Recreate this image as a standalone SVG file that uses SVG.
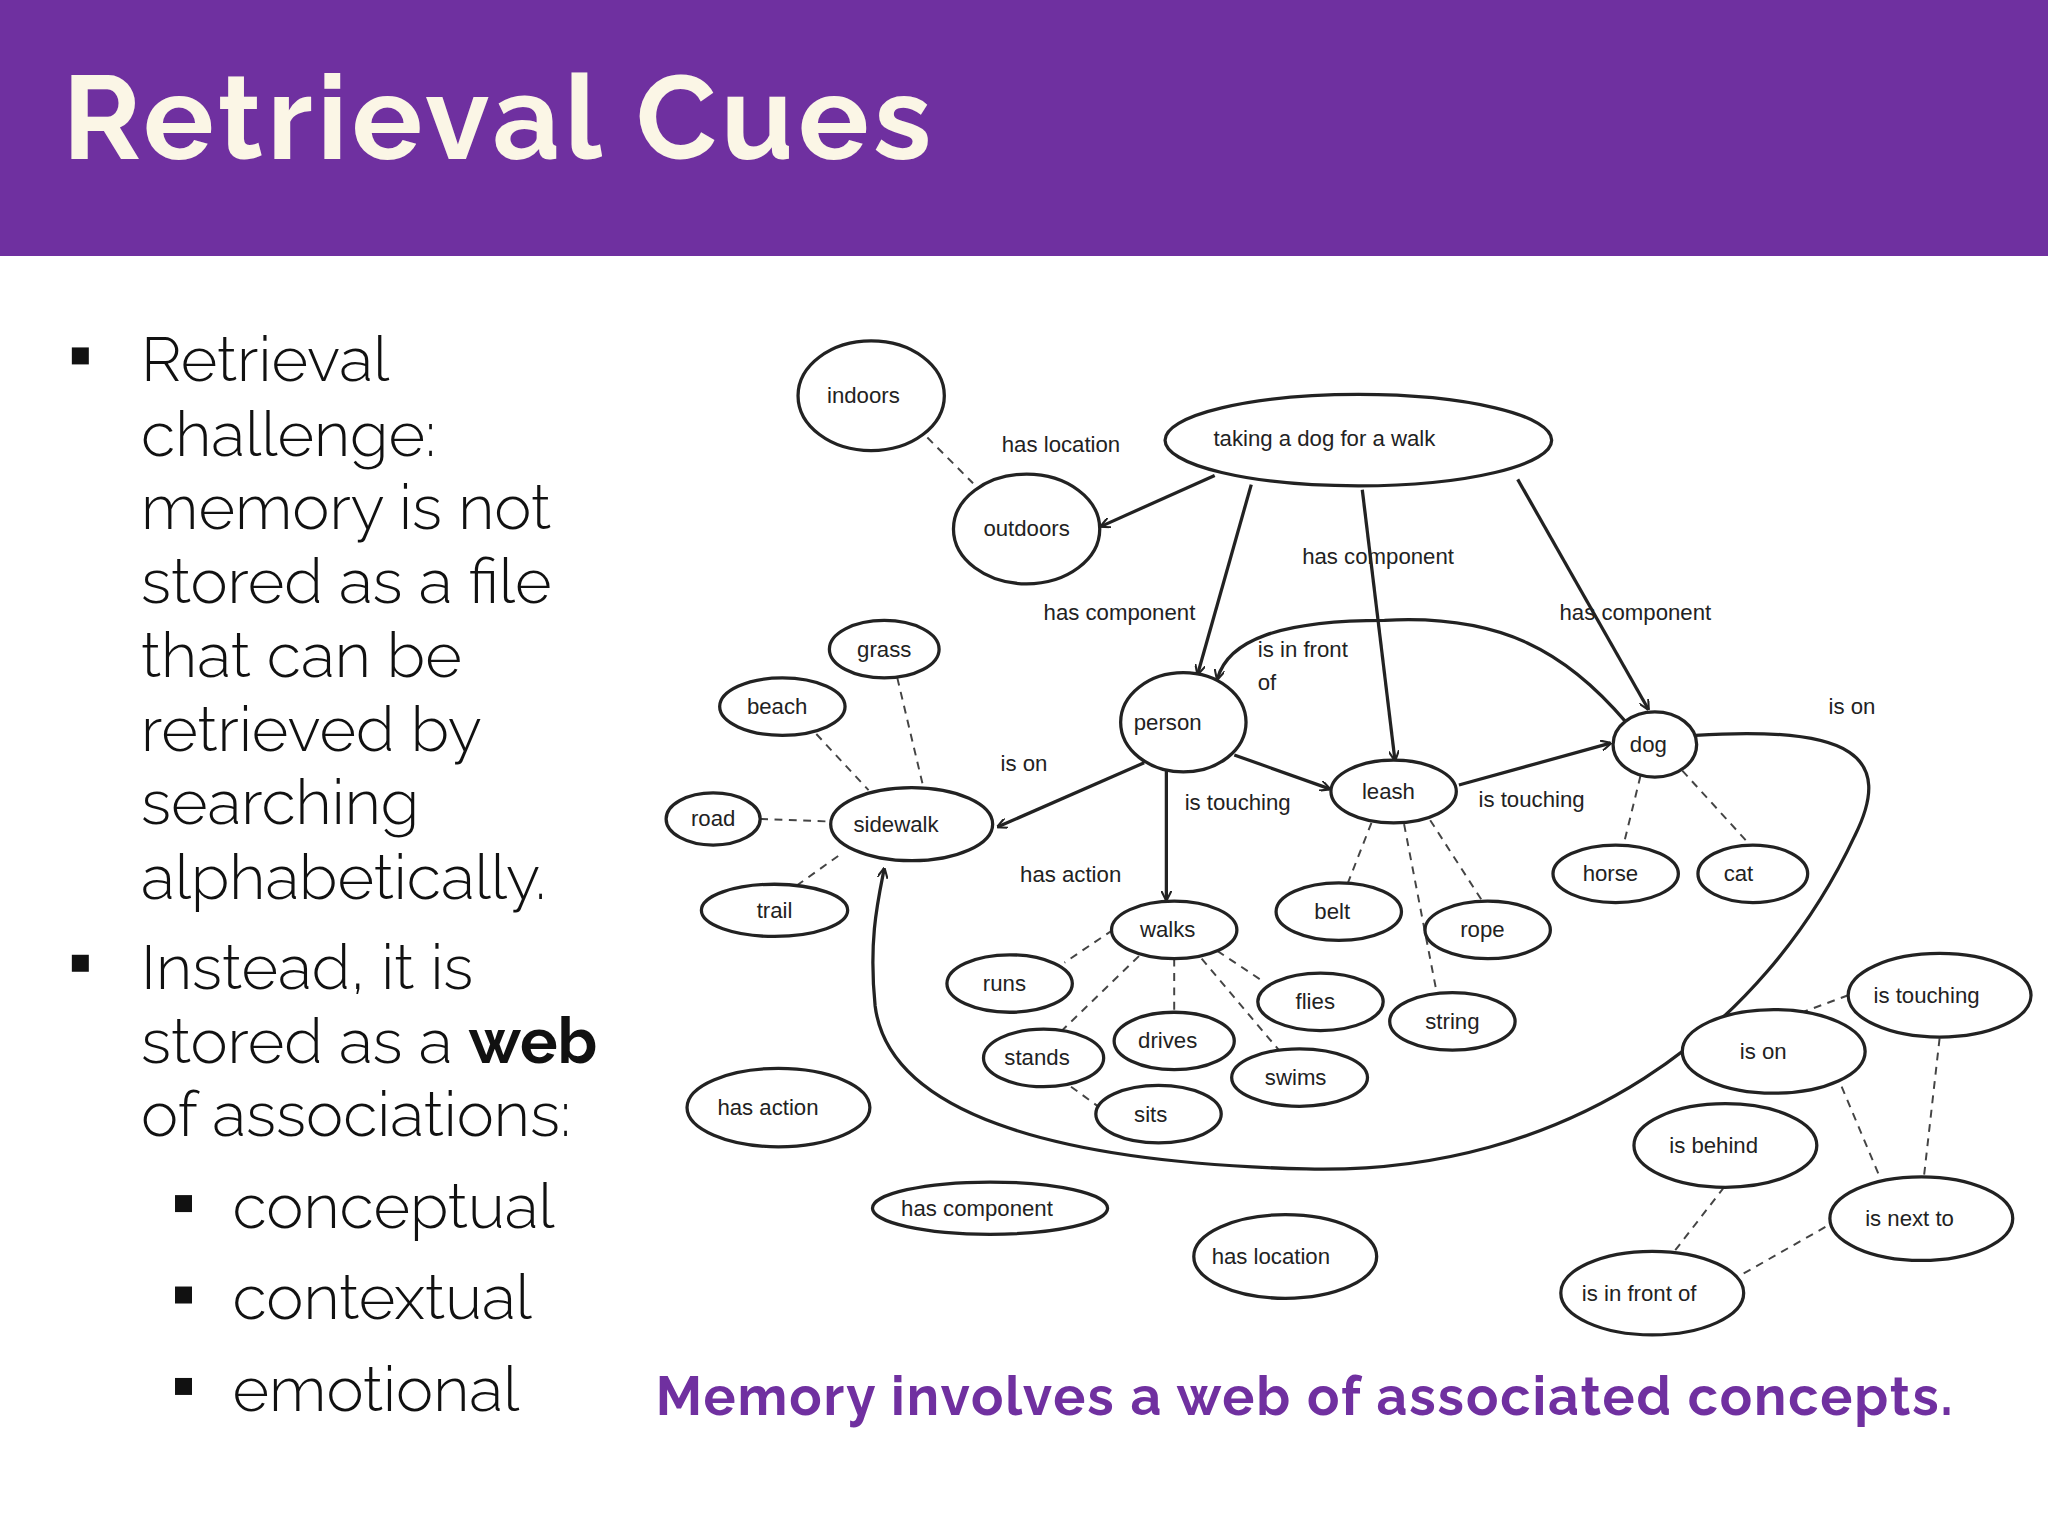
<svg xmlns="http://www.w3.org/2000/svg" width="2048" height="1536" viewBox="0 0 2048 1536">
<defs>
<style>
.n{fill:#fff;stroke:#222;stroke-width:2.5}
.t{font-family:"Liberation Sans",Arial,sans-serif;font-size:17px;fill:#222;text-anchor:middle;dominant-baseline:central}
.l{font-family:"Liberation Sans",Arial,sans-serif;font-size:17px;fill:#222}
.s{fill:none;stroke:#222;stroke-width:2.5}
.d{fill:none;stroke:#444;stroke-width:1.5;stroke-dasharray:6 5}
.b{font-family:Raleway,"Open Sans",sans-serif;font-weight:300;font-size:48px;fill:#111}
</style>
<marker id="a" viewBox="0 0 10 10" refX="9" refY="5" markerWidth="8" markerHeight="8" orient="auto-start-reverse" markerUnits="userSpaceOnUse"><path d="M0,0 L10,5 L0,10" fill="none" stroke="#222" stroke-width="2"/></marker>
</defs>
<rect width="2048" height="1536" fill="#fff"/>
<g transform="scale(1.30612)">
<rect x="0" y="0" width="1568" height="196" fill="#6f30a0"/>
<text x="48" y="122" font-family="Raleway,'Open Sans',sans-serif" font-weight="700" font-size="90" fill="#fbf6e6" textLength="665">Retrieval Cues</text>
<g id="bullets">
<rect x="55" y="266" width="13" height="13" fill="#111"/>
<text class="b" x="108"><tspan x="108" y="292">Retrieval</tspan><tspan x="108" y="349">challenge:</tspan><tspan x="108" y="405">memory is not</tspan><tspan x="108" y="462">stored as a file</tspan><tspan x="108" y="518">that can be</tspan><tspan x="108" y="575">retrieved by</tspan><tspan x="108" y="631">searching</tspan><tspan x="108" y="688">alphabetically.</tspan></text>
<rect x="55" y="731" width="13" height="13" fill="#111"/>
<text class="b"><tspan x="108" y="757">Instead, it is</tspan><tspan x="108" y="814">stored as a <tspan font-weight="700">web</tspan></tspan><tspan x="108" y="870">of associations:</tspan></text>
<rect x="134" y="915" width="13" height="13" fill="#111"/><text class="b" x="178" y="940">conceptual</text>
<rect x="134" y="985" width="13" height="13" fill="#111"/><text class="b" x="178" y="1010">contextual</text>
<rect x="134" y="1055" width="13" height="13" fill="#111"/><text class="b" x="178" y="1080">emotional</text>
</g>
<text x="502" y="1083" font-family="Raleway,'Open Sans',sans-serif" font-weight="700" font-size="41" fill="#7030a0" textLength="993">Memory involves a web of associated concepts.</text>
<g id="connectors">
<path class="s" marker-end="url(#a)" d="M930,364 L843,403"/>
<path class="s" marker-end="url(#a)" d="M958,371 L917,516"/>
<path class="s" marker-end="url(#a)" d="M1043,375 L1068,582"/>
<path class="s" marker-end="url(#a)" d="M1162,367 L1262,543"/>
<path class="s" marker-end="url(#a)" d="M876,584 L764,633"/>
<path class="s" marker-end="url(#a)" d="M893,590 L893,689"/>
<path class="s" marker-end="url(#a)" d="M945,578 L1018,604"/>
<path class="s" marker-end="url(#a)" d="M1117,601 L1233,569"/>
<path class="s" marker-end="url(#a)" d="M1245,553 C1200,500 1150,470 1060,475 C980,475 940,490 932,520"/>
<path class="s" marker-end="url(#a)" d="M1298,563 C1420,555 1450,580 1420,640 C1350,790 1200,900 1000,895 C800,890 680,850 670,770 C665,720 672,690 677,665"/>
<path class="d" d="M710,335 L745,370"/>
<path class="d" d="M687,519 L707,603"/>
<path class="d" d="M625,562 L665,605"/>
<path class="d" d="M582,627 L636,629"/>
<path class="d" d="M610,678 L645,653"/>
<path class="d" d="M852,712 L815,737"/>
<path class="d" d="M872,732 L812,790"/>
<path class="d" d="M899,734 L899,775"/>
<path class="d" d="M820,832 L842,848"/>
<path class="d" d="M932,728 L968,752"/>
<path class="d" d="M920,734 L980,805"/>
<path class="d" d="M1050,630 L1032,676"/>
<path class="d" d="M1095,628 L1135,690"/>
<path class="d" d="M1075,631 L1100,760"/>
<path class="d" d="M1256,594 L1243,647"/>
<path class="d" d="M1288,590 L1340,647"/>
<path class="d" d="M1415,762 L1380,775"/>
<path class="d" d="M1410,832 L1440,903"/>
<path class="d" d="M1485,795 L1473,901"/>
<path class="d" d="M1320,909 L1282,958"/>
<path class="d" d="M1335,975 L1400,938"/>
<text class="l" x="767" y="346">has location</text>
<text class="l" x="997" y="432">has component</text>
<text class="l" x="799" y="475">has component</text>
<text class="l" x="1194" y="475">has component</text>
<text class="l" x="963" y="503">is in front</text>
<text class="l" x="963" y="528">of</text>
<text class="l" x="1400" y="547">is on</text>
<text class="l" x="766" y="590">is on</text>
<text class="l" x="907" y="620">is touching</text>
<text class="l" x="1132" y="618">is touching</text>
<text class="l" x="781" y="675">has action</text>
</g>
<g id="n-indoors"><ellipse class="n" cx="667" cy="303" rx="56" ry="42"/><text class="t" x="661" y="303">indoors</text></g>
<g id="n-walk"><ellipse class="n" cx="1040" cy="337" rx="148" ry="35"/><text class="t" x="1014" y="336">taking a dog for a walk</text></g>
<g id="n-outdoors"><ellipse class="n" cx="786" cy="405" rx="56" ry="42"/><text class="t" x="786" y="405">outdoors</text></g>
<g id="n-person"><ellipse class="n" cx="906" cy="553" rx="48" ry="38"/><text class="t" x="894" y="553">person</text></g>
<g id="n-leash"><ellipse class="n" cx="1067" cy="606" rx="48" ry="24"/><text class="t" x="1063" y="606">leash</text></g>
<g id="n-dog"><ellipse class="n" cx="1267" cy="570" rx="32" ry="25"/><text class="t" x="1262" y="570">dog</text></g>
<g id="n-sidewalk"><ellipse class="n" cx="698" cy="631" rx="62" ry="28"/><text class="t" x="686" y="631">sidewalk</text></g>
<g id="n-grass"><ellipse class="n" cx="677" cy="497" rx="42" ry="22"/><text class="t" x="677" y="497">grass</text></g>
<g id="n-beach"><ellipse class="n" cx="599" cy="541" rx="48" ry="22"/><text class="t" x="595" y="541">beach</text></g>
<g id="n-road"><ellipse class="n" cx="546" cy="627" rx="36" ry="20"/><text class="t" x="546" y="627">road</text></g>
<g id="n-trail"><ellipse class="n" cx="593" cy="697" rx="56" ry="20"/><text class="t" x="593" y="697">trail</text></g>
<g id="n-walks"><ellipse class="n" cx="899" cy="712" rx="48" ry="22"/><text class="t" x="894" y="712">walks</text></g>
<g id="n-runs"><ellipse class="n" cx="773" cy="753" rx="48" ry="22"/><text class="t" x="769" y="753">runs</text></g>
<g id="n-stands"><ellipse class="n" cx="799" cy="810" rx="46" ry="22"/><text class="t" x="794" y="810">stands</text></g>
<g id="n-drives"><ellipse class="n" cx="899" cy="797" rx="46" ry="22"/><text class="t" x="894" y="797">drives</text></g>
<g id="n-sits"><ellipse class="n" cx="887" cy="853" rx="48" ry="22"/><text class="t" x="881" y="853">sits</text></g>
<g id="n-flies"><ellipse class="n" cx="1011" cy="767" rx="48" ry="22"/><text class="t" x="1007" y="767">flies</text></g>
<g id="n-swims"><ellipse class="n" cx="995" cy="825" rx="52" ry="22"/><text class="t" x="992" y="825">swims</text></g>
<g id="n-belt"><ellipse class="n" cx="1025" cy="698" rx="48" ry="22"/><text class="t" x="1020" y="698">belt</text></g>
<g id="n-rope"><ellipse class="n" cx="1139" cy="712" rx="48" ry="22"/><text class="t" x="1135" y="712">rope</text></g>
<g id="n-string"><ellipse class="n" cx="1112" cy="782" rx="48" ry="22"/><text class="t" x="1112" y="782">string</text></g>
<g id="n-horse"><ellipse class="n" cx="1237" cy="669" rx="48" ry="22"/><text class="t" x="1233" y="669">horse</text></g>
<g id="n-cat"><ellipse class="n" cx="1342" cy="669" rx="42" ry="22"/><text class="t" x="1331" y="669">cat</text></g>
<g id="n-hasaction"><ellipse class="n" cx="596" cy="848" rx="70" ry="30"/><text class="t" x="588" y="848">has action</text></g>
<g id="n-hascomp"><ellipse class="n" cx="758" cy="925" rx="90" ry="20"/><text class="t" x="748" y="925">has component</text></g>
<g id="n-hasloc"><ellipse class="n" cx="984" cy="962" rx="70" ry="32"/><text class="t" x="973" y="962">has location</text></g>
<g id="n-istouching"><ellipse class="n" cx="1485" cy="762" rx="70" ry="32"/><text class="t" x="1475" y="762">is touching</text></g>
<g id="n-ison"><ellipse class="n" cx="1358" cy="805" rx="70" ry="32"/><text class="t" x="1350" y="805">is on</text></g>
<g id="n-isbehind"><ellipse class="n" cx="1321" cy="877" rx="70" ry="32"/><text class="t" x="1312" y="877">is behind</text></g>
<g id="n-isnextto"><ellipse class="n" cx="1471" cy="933" rx="70" ry="32"/><text class="t" x="1462" y="933">is next to</text></g>
<g id="n-isinfront"><ellipse class="n" cx="1265" cy="990" rx="70" ry="32"/><text class="t" x="1255" y="990">is in front of</text></g>
</g>
</svg>
